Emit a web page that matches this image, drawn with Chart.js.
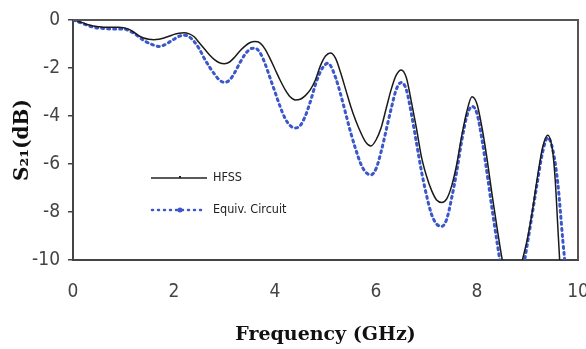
<!DOCTYPE html>
<html>
<head>
<meta charset="utf-8">
<script src="https://cdn.jsdelivr.net/npm/chart.js@4/dist/chart.umd.min.js"></script>
<style>
  html, body { margin: 0; padding: 0; background: #fff; }
  #wrap { width: 586px; height: 349px; }
</style>
</head>
<body>
<div id="wrap"><canvas id="c" width="586" height="349"></canvas></div>
<script>
// frequency points (GHz) and S21 (dB)
var hfssFreq = [0,0.1,0.2,0.3,0.4,0.5,0.6,0.7,0.8,0.9,1.0,1.1,1.2,1.3,1.4,1.5,1.6,1.7,1.8,1.9,2.0,2.1,2.2,2.3,2.4,2.5,2.6,2.7,2.8,2.9,3.0,3.1,3.2,3.3,3.4,3.5,3.6,3.7,3.8,3.9,4.0,4.1,4.2,4.3,4.4,4.5,4.6,4.7,4.8,4.9,5.0,5.1,5.2,5.3,5.4,5.5,5.6,5.7,5.8,5.9,6.0,6.1,6.2,6.3,6.4,6.5,6.6,6.7,6.8,6.9,7.0,7.1,7.2,7.3,7.4,7.5,7.6,7.7,7.8,7.9,8.0,8.1,8.2,8.3,8.4,8.5,8.6,8.7,8.8,8.9,9.0,9.1,9.2,9.3,9.4,9.5,9.55,9.6,9.65]
var hfssDb = [0,-0.05,-0.12,-0.2,-0.25,-0.28,-0.3,-0.3,-0.3,-0.3,-0.32,-0.38,-0.5,-0.65,-0.75,-0.8,-0.82,-0.8,-0.75,-0.68,-0.6,-0.55,-0.53,-0.58,-0.7,-0.95,-1.2,-1.45,-1.65,-1.78,-1.82,-1.75,-1.55,-1.3,-1.1,-0.95,-0.9,-0.95,-1.2,-1.6,-2.05,-2.5,-2.9,-3.2,-3.33,-3.3,-3.15,-2.9,-2.5,-1.9,-1.5,-1.37,-1.6,-2.2,-2.9,-3.6,-4.2,-4.7,-5.1,-5.25,-5.0,-4.5,-3.7,-2.9,-2.3,-2.08,-2.4,-3.4,-4.5,-5.7,-6.5,-7.1,-7.5,-7.6,-7.45,-6.9,-6.0,-4.8,-3.8,-3.2,-3.5,-4.5,-5.8,-7.3,-8.7,-10.0,-11.0,-11.5,-11.0,-10.0,-9.1,-7.9,-6.5,-5.3,-4.8,-5.5,-6.7,-8.6,-10.5]

var circFreq = [0,0.2,0.4,0.6,0.8,1.0,1.2,1.4,1.6,1.7,1.8,2.0,2.1,2.2,2.3,2.4,2.5,2.6,2.7,2.8,2.9,3.0,3.1,3.2,3.3,3.4,3.5,3.6,3.7,3.8,3.9,4.0,4.1,4.2,4.3,4.4,4.5,4.6,4.7,4.8,4.9,5.0,5.05,5.1,5.2,5.3,5.4,5.5,5.6,5.7,5.8,5.9,6.0,6.1,6.2,6.3,6.4,6.5,6.6,6.7,6.8,6.9,7.0,7.1,7.2,7.3,7.4,7.5,7.6,7.7,7.8,7.9,8.0,8.1,8.2,8.3,8.4,8.5,8.6,8.7,8.8,8.9,9.0,9.1,9.2,9.3,9.4,9.5,9.6,9.7,9.75]
var circDb = [0,-0.15,-0.3,-0.35,-0.38,-0.38,-0.55,-0.85,-1.05,-1.1,-1.05,-0.8,-0.68,-0.63,-0.7,-0.9,-1.2,-1.6,-1.95,-2.25,-2.5,-2.6,-2.5,-2.2,-1.8,-1.45,-1.22,-1.17,-1.35,-1.8,-2.4,-3.0,-3.6,-4.1,-4.4,-4.5,-4.4,-4.0,-3.4,-2.7,-2.15,-1.85,-1.8,-1.9,-2.4,-3.1,-3.9,-4.7,-5.4,-6.0,-6.35,-6.45,-6.2,-5.5,-4.6,-3.7,-2.9,-2.6,-2.9,-3.9,-5.1,-6.3,-7.3,-8.1,-8.5,-8.6,-8.3,-7.4,-6.3,-5.0,-4.0,-3.6,-3.9,-5.0,-6.4,-7.9,-9.3,-10.6,-11.5,-12.0,-11.5,-10.5,-9.3,-8.0,-6.7,-5.5,-4.9,-5.4,-6.8,-9.2,-10.3]

var xTicks = [0,2,4,6,8,10]
var yTicks = [0,-2,-4,-6,-8,-10]
var names = ["HFSS", "Equiv. Circuit"]

function pairs(xs, ys) {
  var out = []
  for (var i = 0; i < xs.length; i++) out.push({x: xs[i], y: ys[i]})
  return out
}

var blue = "#3b57c9"
var narrow = "'Liberation Sans Narrow', 'DejaVu Sans Condensed', 'Arial Narrow', sans-serif"
var serif = "'DejaVu Serif', 'Liberation Serif', serif"

// box around the plot area + the little legend inside it
var frame = {
  id: "frame",
  afterDraw: function(chart) {
    var ctx = chart.ctx, a = chart.chartArea
    ctx.save()
    ctx.strokeStyle = "#555"
    ctx.lineWidth = 2
    ctx.beginPath()
    ctx.moveTo(a.left, a.top)
    ctx.lineTo(a.right, a.top)
    ctx.lineTo(a.right, a.bottom)
    ctx.stroke()

    // legend
    ctx.lineWidth = 1.5
    ctx.strokeStyle = "#222"
    ctx.beginPath()
    ctx.moveTo(151, 178); ctx.lineTo(207, 178)
    ctx.stroke()
    ctx.fillStyle = "#222"
    ctx.fillRect(179, 176, 2, 2)

    ctx.strokeStyle = blue
    ctx.lineWidth = 2.5
    ctx.lineCap = "round"
    ctx.setLineDash([1, 5])
    ctx.beginPath()
    ctx.moveTo(152, 210); ctx.lineTo(205, 210)
    ctx.stroke()
    ctx.setLineDash([])
    ctx.fillStyle = blue
    ctx.beginPath(); ctx.arc(180, 210, 2.5, 0, Math.PI*2); ctx.fill()

    ctx.fillStyle = "#222"
    ctx.font = "12.5px " + narrow
    ctx.textBaseline = "middle"
    ctx.fillText(names[0], 213, 178)
    ctx.fillText(names[1], 213, 210)
    ctx.restore()
  }
}

new Chart(document.getElementById("c"), {
  type: "line",
  data: {
    datasets: [
      {
        label: names[0],
        data: pairs(hfssFreq, hfssDb),
        borderColor: "#1a1a1a",
        borderWidth: 1.5,
        pointRadius: 0,
        cubicInterpolationMode: "monotone",
        order: 1
      },
      {
        label: names[1],
        data: pairs(circFreq, circDb),
        borderColor: blue,
        borderWidth: 3,
        borderDash: [2, 4],
        borderCapStyle: "round",
        pointRadius: 0,
        cubicInterpolationMode: "monotone",
        order: 2
      }
    ]
  },
  options: {
    responsive: false,
    animation: false,
    events: [],
    layout: { padding: { top: 20, right: 8, left: 0, bottom: 0 } },
    plugins: { legend: { display: false }, tooltip: { enabled: false } },
    scales: {
      x: {
        type: "linear",
        min: 0, max: 10,
        afterFit: function(s) { s.height = 89; s.paddingLeft = 0; s.paddingRight = 0 },
        afterBuildTicks: function(s) { s.ticks = xTicks.map(function(v) { return {value: v} }) },
        grid: { display: false },
        border: { display: true, color: "#444", width: 2 },
        ticks: { color: "#444", padding: 13, font: { family: narrow, size: 19 } },
        title: {
          display: true,
          text: "Frequency (GHz)",
          color: "#111",
          padding: { top: 0, bottom: 3 },
          font: { family: serif, size: 19, weight: "bold" }
        }
      },
      y: {
        min: -10, max: 0,
        afterFit: function(s) { s.width = 73; s.paddingTop = 0; s.paddingBottom = 0 },
        afterBuildTicks: function(s) { s.ticks = yTicks.map(function(v) { return {value: v} }) },
        grid: { drawOnChartArea: false, tickLength: 5, color: "#444", lineWidth: 1.5 },
        border: { display: true, color: "#444", width: 2 },
        ticks: { color: "#444", padding: 8, font: { family: narrow, size: 19 } },
        title: {
          display: true,
          text: "S\u2082\u2081(dB)",
          color: "#111",
          padding: { top: 11, bottom: 0 },
          font: { family: serif, size: 20, weight: "bold" }
        }
      }
    }
  },
  plugins: [frame]
})
</script>
</body>
</html>
